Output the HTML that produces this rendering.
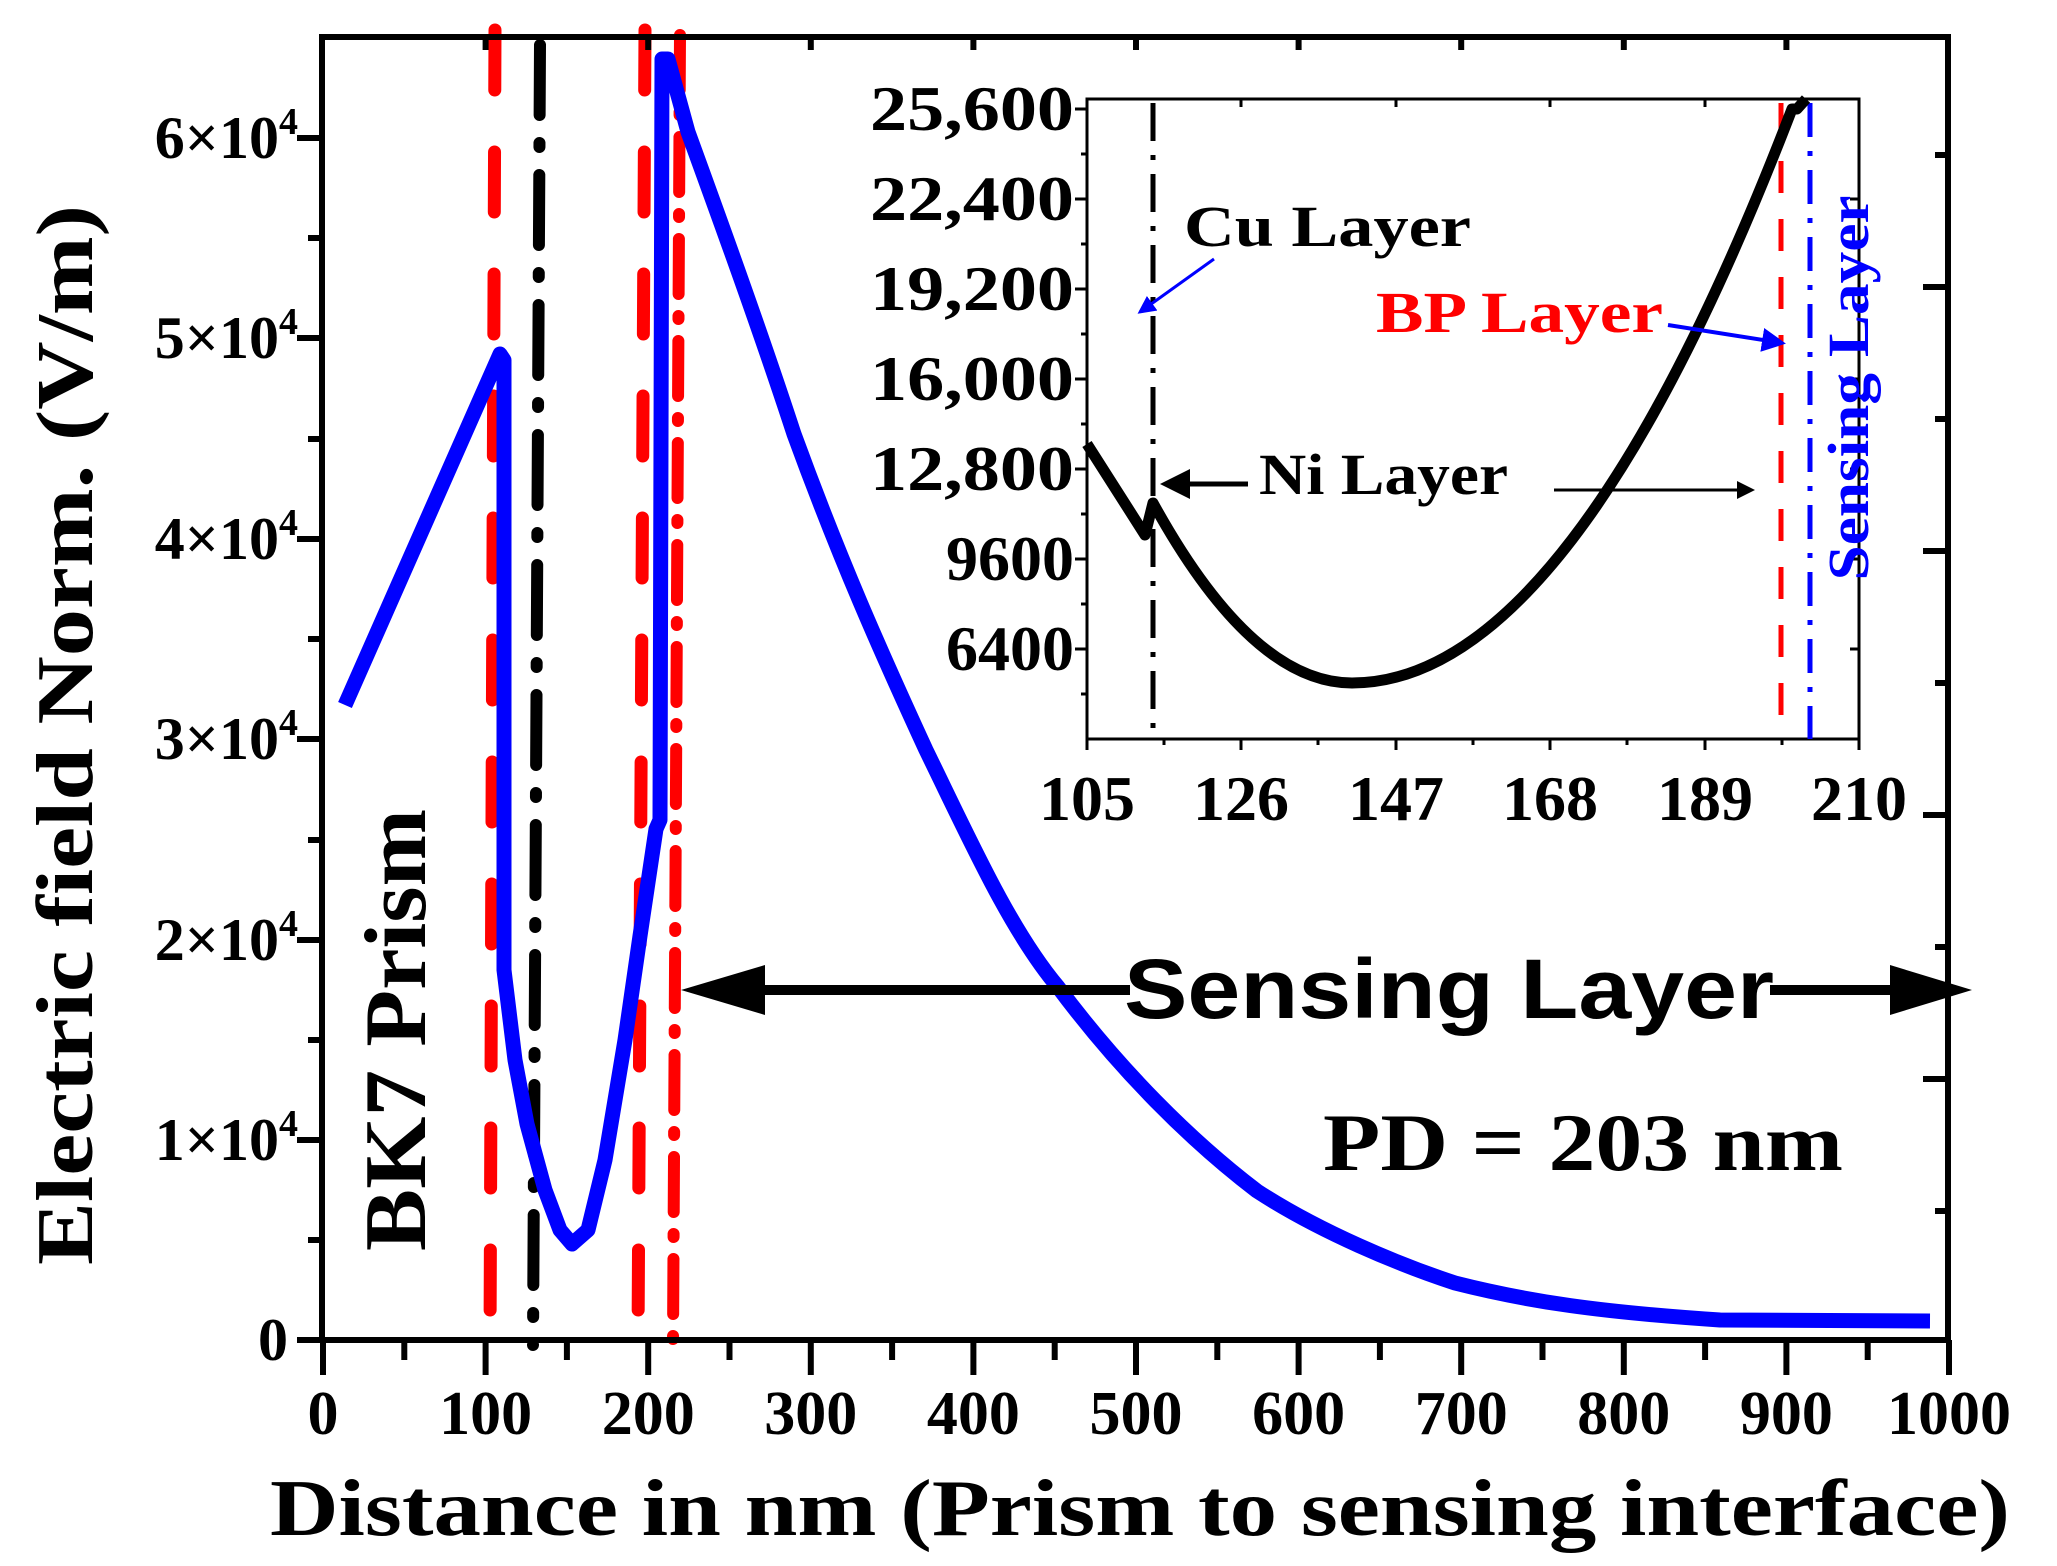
<!DOCTYPE html>
<html><head><meta charset="utf-8"><style>
html,body{margin:0;padding:0;background:#fff;}
svg{display:block;}
text{font-family:"Liberation Serif",serif;font-weight:bold;fill:#000;}
</style></head><body>
<svg width="2057" height="1566" viewBox="0 0 2057 1566" xmlns="http://www.w3.org/2000/svg">
<defs>
<marker id="ah" markerWidth="6" markerHeight="6" refX="5" refY="3" orient="auto" markerUnits="strokeWidth"><path d="M0,0 L6,3 L0,6 z" fill="#000"/></marker>
<marker id="ahb" markerWidth="6" markerHeight="6" refX="5" refY="3" orient="auto" markerUnits="strokeWidth"><path d="M0,0 L6,3 L0,6 z" fill="#00f"/></marker>
</defs>

<line x1="495" y1="30" x2="490" y2="1345" stroke="#f00" stroke-width="13" stroke-dasharray="60 62" stroke-linecap="round"/>
<line x1="540" y1="45" x2="533" y2="1345" stroke="#000" stroke-width="12" stroke-dasharray="70 28 4 28" stroke-linecap="round"/>
<line x1="645" y1="30" x2="638" y2="1345" stroke="#f00" stroke-width="13" stroke-dasharray="60 62" stroke-linecap="round"/>
<line x1="680" y1="35" x2="673" y2="1345" stroke="#f00" stroke-width="12" stroke-dasharray="55 22 3 22" stroke-linecap="round"/>

<path fill="none" stroke="#00f" stroke-width="15" stroke-linejoin="round"
d="M345,705 L500,354 L504,360 L504,970 L515,1060 L527,1124 L545,1190 L560,1230 L572,1244 L588,1230 L605,1160 L625,1040 L640,936 L656,829 L660,820 L662,59 L668,59 L688,132 C720,220 760,330 794,434 C840,560 880,650 926,750 C970,840 1010,930 1058,987 C1120,1070 1190,1140 1257,1191 C1320,1232 1400,1265 1455,1283 C1530,1302 1600,1312 1720,1320 L1930,1321"/>

<rect x="322" y="37" width="1626" height="1303" fill="none" stroke="#000" stroke-width="6"/>
<g stroke="#000" stroke-width="6">
<line x1="323" y1="1340" x2="323" y2="1375"/><line x1="485.6" y1="1340" x2="485.6" y2="1375"/><line x1="648.2" y1="1340" x2="648.2" y2="1375"/><line x1="810.8" y1="1340" x2="810.8" y2="1375"/><line x1="973.4" y1="1340" x2="973.4" y2="1375"/><line x1="1136" y1="1340" x2="1136" y2="1375"/><line x1="1298.6" y1="1340" x2="1298.6" y2="1375"/><line x1="1461.2" y1="1340" x2="1461.2" y2="1375"/><line x1="1623.8" y1="1340" x2="1623.8" y2="1375"/><line x1="1786.4" y1="1340" x2="1786.4" y2="1375"/><line x1="1949" y1="1340" x2="1949" y2="1375"/>
<line x1="404.3" y1="1340" x2="404.3" y2="1360"/><line x1="566.9" y1="1340" x2="566.9" y2="1360"/><line x1="729.5" y1="1340" x2="729.5" y2="1360"/><line x1="892.1" y1="1340" x2="892.1" y2="1360"/><line x1="1054.7" y1="1340" x2="1054.7" y2="1360"/><line x1="1217.3" y1="1340" x2="1217.3" y2="1360"/><line x1="1379.9" y1="1340" x2="1379.9" y2="1360"/><line x1="1542.5" y1="1340" x2="1542.5" y2="1360"/><line x1="1705.1" y1="1340" x2="1705.1" y2="1360"/><line x1="1867.7" y1="1340" x2="1867.7" y2="1360"/>
<line x1="485.6" y1="37" x2="485.6" y2="50"/><line x1="648.2" y1="37" x2="648.2" y2="50"/><line x1="810.8" y1="37" x2="810.8" y2="50"/><line x1="973.4" y1="37" x2="973.4" y2="50"/><line x1="1136" y1="37" x2="1136" y2="50"/><line x1="1298.6" y1="37" x2="1298.6" y2="50"/><line x1="1461.2" y1="37" x2="1461.2" y2="50"/><line x1="1623.8" y1="37" x2="1623.8" y2="50"/><line x1="1786.4" y1="37" x2="1786.4" y2="50"/>
<line x1="297" y1="1340" x2="322" y2="1340"/><line x1="297" y1="1140" x2="322" y2="1140"/><line x1="297" y1="940" x2="322" y2="940"/><line x1="297" y1="739" x2="322" y2="739"/><line x1="297" y1="539" x2="322" y2="539"/><line x1="297" y1="338" x2="322" y2="338"/><line x1="297" y1="138" x2="322" y2="138"/>
<line x1="308" y1="1240" x2="322" y2="1240"/><line x1="308" y1="1040" x2="322" y2="1040"/><line x1="308" y1="840" x2="322" y2="840"/><line x1="308" y1="639" x2="322" y2="639"/><line x1="308" y1="439" x2="322" y2="439"/><line x1="308" y1="238" x2="322" y2="238"/>
<line x1="1923" y1="1079" x2="1948" y2="1079"/><line x1="1923" y1="815" x2="1948" y2="815"/><line x1="1923" y1="551" x2="1948" y2="551"/><line x1="1923" y1="287" x2="1948" y2="287"/>
<line x1="1935" y1="1211" x2="1948" y2="1211"/><line x1="1935" y1="947" x2="1948" y2="947"/><line x1="1935" y1="683" x2="1948" y2="683"/><line x1="1935" y1="419" x2="1948" y2="419"/><line x1="1935" y1="155" x2="1948" y2="155"/>
</g>

<g font-size="62" text-anchor="middle">
<text x="323" y="1434">0</text><text x="485.6" y="1434">100</text><text x="648.2" y="1434">200</text><text x="810.8" y="1434">300</text><text x="973.4" y="1434">400</text><text x="1136" y="1434">500</text><text x="1298.6" y="1434">600</text><text x="1461.2" y="1434">700</text><text x="1623.8" y="1434">800</text><text x="1786.4" y="1434">900</text><text x="1949" y="1434">1000</text>
</g>
<g font-size="60" text-anchor="end" style="font-weight:normal">
<text x="288" y="1360" style="font-weight:bold">0</text>
<text x="298" y="1160">1×10<tspan dy="-24" font-size="38">4</tspan></text>
<text x="298" y="960">2×10<tspan dy="-24" font-size="38">4</tspan></text>
<text x="298" y="759">3×10<tspan dy="-24" font-size="38">4</tspan></text>
<text x="298" y="559">4×10<tspan dy="-24" font-size="38">4</tspan></text>
<text x="298" y="358">5×10<tspan dy="-24" font-size="38">4</tspan></text>
<text x="298" y="158">6×10<tspan dy="-24" font-size="38">4</tspan></text>
</g>

<text x="1140" y="1535" font-size="80" text-anchor="middle" textLength="1740" lengthAdjust="spacingAndGlyphs">Distance in nm (Prism to sensing interface)</text>
<text transform="translate(92,735) rotate(-90)" font-size="80" text-anchor="middle" textLength="1060" lengthAdjust="spacingAndGlyphs">Electric field Norm. (V/m)</text>

<text transform="translate(425,1030) rotate(-90)" font-size="88" text-anchor="middle" textLength="442" lengthAdjust="spacingAndGlyphs">BK7 Prism</text>

<line x1="740" y1="990" x2="1130" y2="990" stroke="#000" stroke-width="10"/>
<line x1="1770" y1="990" x2="1900" y2="990" stroke="#000" stroke-width="10"/>
<path d="M681,990 L765,965 L765,1015 z" fill="#000"/>
<path d="M1972,990 L1890,965 L1890,1015 z" fill="#000"/>
<text x="1124" y="1018" font-size="84" style="font-family:'Liberation Sans',sans-serif" textLength="650" lengthAdjust="spacingAndGlyphs">Sensing Layer</text>
<text x="1323" y="1170" font-size="82" textLength="520" lengthAdjust="spacingAndGlyphs">PD = 203 nm</text>

<rect x="1087" y="99" width="772" height="640" fill="#fff" stroke="#000" stroke-width="3"/>
<g stroke="#000" stroke-width="3">
<line x1="1075" y1="109" x2="1087" y2="109"/><line x1="1075" y1="199" x2="1087" y2="199"/><line x1="1075" y1="289" x2="1087" y2="289"/><line x1="1075" y1="379" x2="1087" y2="379"/><line x1="1075" y1="469" x2="1087" y2="469"/><line x1="1075" y1="559" x2="1087" y2="559"/><line x1="1075" y1="649" x2="1087" y2="649"/>
<line x1="1081" y1="154" x2="1087" y2="154"/><line x1="1081" y1="244" x2="1087" y2="244"/><line x1="1081" y1="334" x2="1087" y2="334"/><line x1="1081" y1="424" x2="1087" y2="424"/><line x1="1081" y1="514" x2="1087" y2="514"/><line x1="1081" y1="604" x2="1087" y2="604"/><line x1="1081" y1="694" x2="1087" y2="694"/>
<line x1="1087" y1="739" x2="1087" y2="750"/><line x1="1241" y1="739" x2="1241" y2="750"/><line x1="1396" y1="739" x2="1396" y2="750"/><line x1="1550" y1="739" x2="1550" y2="750"/><line x1="1705" y1="739" x2="1705" y2="750"/><line x1="1859" y1="739" x2="1859" y2="750"/>
<line x1="1164" y1="739" x2="1164" y2="745"/><line x1="1318" y1="739" x2="1318" y2="745"/><line x1="1473" y1="739" x2="1473" y2="745"/><line x1="1627" y1="739" x2="1627" y2="745"/><line x1="1782" y1="739" x2="1782" y2="745"/>
<line x1="1241" y1="99" x2="1241" y2="107"/><line x1="1396" y1="99" x2="1396" y2="107"/><line x1="1550" y1="99" x2="1550" y2="107"/><line x1="1705" y1="99" x2="1705" y2="107"/>
<line x1="1850" y1="199" x2="1859" y2="199"/><line x1="1850" y1="289" x2="1859" y2="289"/><line x1="1850" y1="379" x2="1859" y2="379"/><line x1="1850" y1="469" x2="1859" y2="469"/><line x1="1850" y1="559" x2="1859" y2="559"/><line x1="1850" y1="649" x2="1859" y2="649"/>
</g>
<g font-size="64" text-anchor="end">
<text x="1074" y="130" textLength="204" lengthAdjust="spacingAndGlyphs">25,600</text><text x="1074" y="220" textLength="204" lengthAdjust="spacingAndGlyphs">22,400</text><text x="1074" y="310" textLength="204" lengthAdjust="spacingAndGlyphs">19,200</text><text x="1074" y="400" textLength="204" lengthAdjust="spacingAndGlyphs">16,000</text><text x="1074" y="490" textLength="204" lengthAdjust="spacingAndGlyphs">12,800</text><text x="1074" y="580">9600</text><text x="1074" y="670">6400</text>
</g>
<g font-size="64" text-anchor="middle">
<text x="1087" y="820">105</text><text x="1241" y="820">126</text><text x="1396" y="820">147</text><text x="1550" y="820">168</text><text x="1705" y="820">189</text><text x="1859" y="820">210</text>
</g>
<line x1="1153" y1="103" x2="1153" y2="739" stroke="#000" stroke-width="5" stroke-dasharray="38 14 5 14"/>
<line x1="1781" y1="103" x2="1781" y2="739" stroke="#f00" stroke-width="5" stroke-dasharray="32 26"/>
<line x1="1810" y1="103" x2="1810" y2="739" stroke="#00f" stroke-width="5" stroke-dasharray="34 14 5 14"/>
<path d="M1087,444 L1145,535 L1153,503 Q1252,683 1352,683 Q1572,683 1792,109 L1797,109 L1806,99" fill="none" stroke="#000" stroke-width="11" stroke-linejoin="round"/>

<text x="1184" y="246" font-size="58" textLength="287" lengthAdjust="spacingAndGlyphs">Cu  Layer</text>
<line x1="1214" y1="259" x2="1140" y2="312" stroke="#00f" stroke-width="3" marker-end="url(#ahb)"/>
<text x="1376" y="332" font-size="58" style="fill:#f00" textLength="287" lengthAdjust="spacingAndGlyphs">BP  Layer</text>
<line x1="1668" y1="325" x2="1782" y2="343" stroke="#00f" stroke-width="4" marker-end="url(#ahb)"/>
<text x="1259" y="494" font-size="58" textLength="249" lengthAdjust="spacingAndGlyphs">Ni Layer</text>
<line x1="1248" y1="484" x2="1165" y2="484" stroke="#000" stroke-width="5" marker-end="url(#ah)"/>
<line x1="1554" y1="490" x2="1752" y2="490" stroke="#000" stroke-width="3" marker-end="url(#ah)"/>
<text transform="translate(1868,388) rotate(-90)" font-size="58" text-anchor="middle" style="fill:#00f" textLength="385" lengthAdjust="spacingAndGlyphs">Sensing  Layer</text>
</svg>
</body></html>
